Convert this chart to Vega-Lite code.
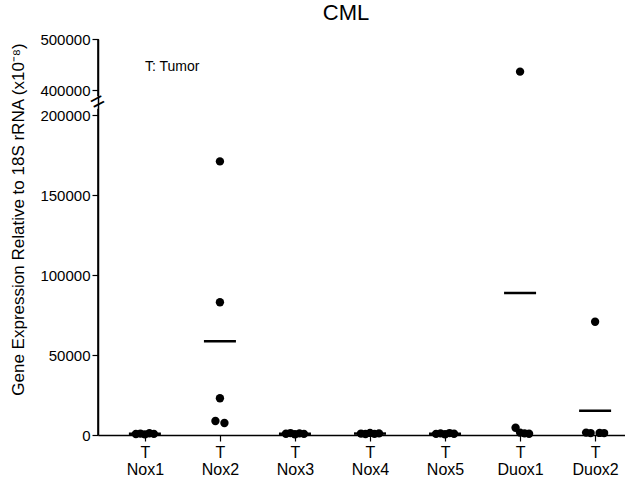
{
  "$schema": "https://vega.github.io/schema/vega-lite/v6.json",
  "width": 544,
  "height": 396,
  "autosize": "none",
  "padding": {"left": 98, "top": 39, "right": 0, "bottom": 50},
  "title": {"text": "CML", "fontSize": 22, "font": "Liberation Sans", "fontWeight": "normal", "color": "black", "offset": 7, "dx": -24},
  "config": {
    "view": {"stroke": null},
    "font": "Liberation Sans",
    "axis": {"domainColor": "black", "tickColor": "black", "labelColor": "black", "titleColor": "black", "grid": false, "domainWidth": 1.5, "tickWidth": 1.2, "labelFont": "Liberation Sans", "titleFont": "Liberation Sans"}
  },
  "datasets": {
    "expr": [
      {"gene": "Nox1", "rep": 1, "value": 600}, {"gene": "Nox1", "rep": 2, "value": 900}, {"gene": "Nox1", "rep": 3, "value": 400}, {"gene": "Nox1", "rep": 4, "value": 1100}, {"gene": "Nox1", "rep": 5, "value": 700},
      {"gene": "Nox2", "rep": 3, "value": 171000}, {"gene": "Nox2", "rep": 3, "value": 83000}, {"gene": "Nox2", "rep": 3, "value": 23000}, {"gene": "Nox2", "rep": 2, "value": 8750}, {"gene": "Nox2", "rep": 4, "value": 7500},
      {"gene": "Nox3", "rep": 1, "value": 800}, {"gene": "Nox3", "rep": 2, "value": 1200}, {"gene": "Nox3", "rep": 3, "value": 500}, {"gene": "Nox3", "rep": 4, "value": 1000}, {"gene": "Nox3", "rep": 5, "value": 700},
      {"gene": "Nox4", "rep": 1, "value": 900}, {"gene": "Nox4", "rep": 2, "value": 600}, {"gene": "Nox4", "rep": 3, "value": 1300}, {"gene": "Nox4", "rep": 4, "value": 700}, {"gene": "Nox4", "rep": 5, "value": 1000},
      {"gene": "Nox5", "rep": 1, "value": 700}, {"gene": "Nox5", "rep": 2, "value": 1000}, {"gene": "Nox5", "rep": 3, "value": 500}, {"gene": "Nox5", "rep": 4, "value": 1200}, {"gene": "Nox5", "rep": 5, "value": 800},
      {"gene": "Duox1", "rep": 3, "value": 436000}, {"gene": "Duox1", "rep": 2, "value": 4500}, {"gene": "Duox1", "rep": 3, "value": 1500}, {"gene": "Duox1", "rep": 4, "value": 1000}, {"gene": "Duox1", "rep": 5, "value": 750},
      {"gene": "Duox2", "rep": 3, "value": 70800}, {"gene": "Duox2", "rep": 1, "value": 1500}, {"gene": "Duox2", "rep": 2, "value": 1200}, {"gene": "Duox2", "rep": 4, "value": 1300}, {"gene": "Duox2", "rep": 5, "value": 1200}
    ],
    "notes": [
      {"gene": "Nox1", "value": 445000, "label": "T: Tumor"}
    ],
    "brk": [
      {"gene": "Nox1", "value": 302000, "label": "="}
    ],
    "axispts": [
      {"seg": 1, "v": 0}, {"seg": 1, "v": 250000},
      {"seg": 2, "v": 350000}, {"seg": 2, "v": 500000}
    ]
  },
  "encoding": {
    "x": {
      "field": "gene", "type": "nominal",
      "sort": ["Nox1", "Nox2", "Nox3", "Nox4", "Nox5", "Duox1", "Duox2"],
      "scale": {"type": "point", "padding": 0.625, "domain": ["Nox1", "Nox2", "Nox3", "Nox4", "Nox5", "Duox1", "Duox2"]},
      "axis": {"title": null, "labelAngle": 0, "labelExpr": "['T', datum.label]", "labelFontSize": 16, "labelLineHeight": 17, "tickSize": 6, "labelPadding": 3}
    },
    "y": {
      "field": "value", "type": "quantitative",
      "scale": {"domain": [0, 200000, 400000, 500000], "range": [396, 76, 51, 0], "nice": false, "zero": false},
      "axis": {
        "title": "Gene Expression Relative to 18S rRNA (x10⁻⁸)",
        "titleFontSize": 17, "titleFontWeight": "normal", "titlePadding": 12, "titleY": 180,
        "values": [0, 50000, 100000, 150000, 200000, 400000, 500000],
        "format": "d", "labelFontSize": 15, "tickSize": 6, "labelPadding": 2
      }
    }
  },
  "layer": [
    {
      "data": {"name": "axispts"},
      "mark": {"type": "line", "color": "black", "strokeWidth": 1.6},
      "encoding": {
        "x": {"value": 0},
        "y": {"field": "v", "type": "quantitative"},
        "detail": {"field": "seg", "type": "nominal"}
      }
    },
    {
      "data": {"name": "expr"},
      "mark": {"type": "circle", "size": 70, "color": "black", "opacity": 1},
      "encoding": {
        "xOffset": {"field": "rep", "type": "ordinal", "scale": {"type": "point", "padding": 0, "range": [-9, 9]}}
      }
    },
    {
      "data": {"name": "expr"},
      "mark": {"type": "tick", "color": "black", "size": 32, "thickness": 2.5, "orient": "horizontal"},
      "encoding": {"y": {"aggregate": "mean", "field": "value", "type": "quantitative"}}
    },
    {
      "data": {"name": "notes"},
      "mark": {"type": "text", "align": "left", "baseline": "middle", "fontSize": 14, "color": "black", "font": "Liberation Sans"},
      "encoding": {"text": {"field": "label"}}
    },
    {
      "data": {"name": "brk"},
      "mark": {"type": "text", "align": "center", "baseline": "middle", "fontSize": 24, "angle": -28, "dx": -41.5, "dy": -22, "color": "black", "font": "Liberation Sans"},
      "encoding": {"text": {"field": "label"}}
    }
  ]
}
